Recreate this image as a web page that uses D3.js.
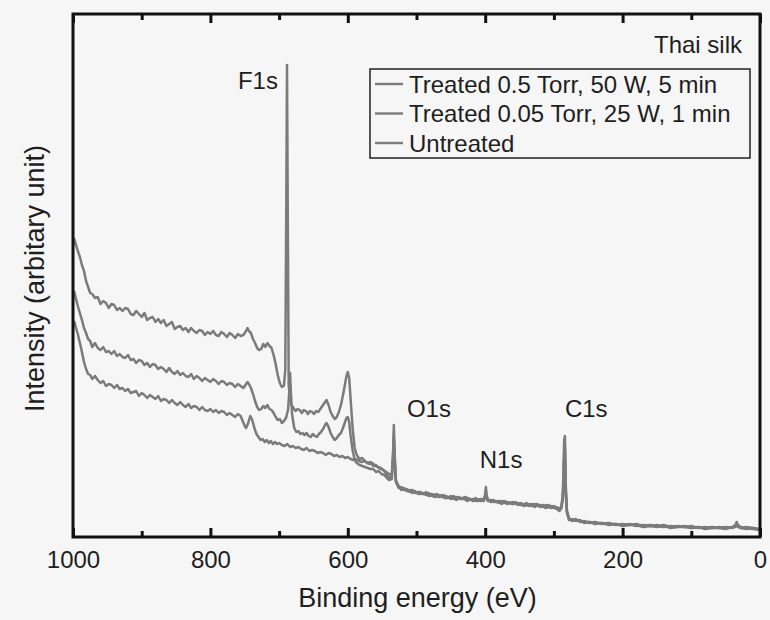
<!DOCTYPE html>
<html>
<head>
<meta charset="utf-8">
<script src="https://cdn.jsdelivr.net/npm/d3@7"></script>
<style>
  body { margin: 0; background: #f6f6f6; }
  svg { display: block; }
  text { font-family: "Liberation Sans", Arial, sans-serif; fill: #1e1e1e; }
</style>
</head>
<body>
<svg id="chart" width="770" height="620"></svg>
<script>
// XPS survey spectra of Thai silk: [binding energy (eV), intensity (a.u.)]
const treatedHigh = [
  [1000,29.1],[998,29.8],[996,29.3],[993,28.6],[990,28.0],[987,27.2],[984,26.6],[981,25.6],[978,25.0],[975,24.4],
  [972,24.3],[968,23.9],[964,24.0],[960,23.3],[956,23.6],[952,23.4],[948,22.9],[944,23.3],[940,23.2],[936,22.7],
  [932,22.9],[928,22.6],[924,22.9],[920,22.8],[916,22.3],[912,22.2],[908,22.6],[904,22.3],[900,22.0],[896,22.4],
  [892,21.7],[888,21.9],[884,22.0],[880,21.5],[876,21.8],[872,21.4],[868,21.7],[864,21.1],[860,21.3],[856,21.5],
  [852,20.8],[848,21.0],[844,21.1],[840,20.7],[836,20.9],[832,20.5],[828,20.9],[824,20.6],[820,20.4],[816,20.7],
  [812,20.6],[808,20.2],[804,20.5],[800,20.3],[796,20.6],[792,20.2],[788,20.1],[784,20.5],[780,20.3],[776,20.0],
  [772,20.4],[768,20.2],[764,19.9],[760,20.3],[756,20.1],[752,20.2],[749,20.5],[746,20.9],[744,20.6],
  [741,20.4],[738,19.8],[735,19.4],[732,18.9],[729,18.7],[726,18.8],[723,19.3],[720,19.0],[717,19.4],[714,19.1],
  [711,18.9],[708,18.2],[705,17.3],[702,16.2],[699,15.4],[696,15.0],[693,15.1],[691,16.7],[689.5,33.7],[688.5,47.2],
  [687.5,33.7],[686,15.2],[684,13.7],[682,13.2],[679,12.9],[676,12.6],[673,12.8],[670,12.7],[667,12.4],[664,12.7],
  [661,12.6],[658,12.3],[655,12.6],[652,12.5],[649,12.3],[646,12.6],[643,12.5],[640,12.8],[637,13.1],[634,13.4],
  [631,13.7],[628,13.2],[625,12.5],[622,12.1],[619,11.8],[616,12.0],[613,12.5],[610,13.2],[607,14.2],[604,15.3],
  [602,16.1],[600,16.5],[598,15.9],[596,13.9],[593,10.9],[590,8.9],[587,8.2],[583,7.8],[579,7.9],[575,7.6],
  [571,7.4],[567,7.5],[563,7.1],[559,7.2],[555,6.9],[551,6.8],[547,6.6],[543,6.2],[540,5.9],[536,6.1],
  [534,8.7],[533,11.2],[532,8.7],[530,5.7],
  [526,5.0],[522,4.8],[518,4.9],[514,4.6],[510,4.7],[506,4.6],[502,4.4],[498,4.5],[494,4.5],[490,4.3],
  [486,4.5],[482,4.2],[478,4.3],[474,4.2],[470,4.3],[466,4.0],[462,4.2],[458,4.1],[454,4.0],[450,3.9],
  [446,4.1],[442,3.9],[438,4.0],[434,3.8],[430,4.0],[426,3.9],[422,3.8],[418,3.7],[414,3.9],[410,3.7],
  [406,3.8],[402,3.7],[400,4.3],[399,5.0],[398,4.2],[396,3.7],[392,3.6],[388,3.7],[384,3.5],[380,3.6],
  [376,3.5],[372,3.6],[368,3.4],[364,3.4],[360,3.3],[356,3.5],[352,3.3],[348,3.4],[344,3.2],[340,3.4],
  [336,3.2],[332,3.3],[328,3.2],[324,3.3],[320,3.1],[316,3.2],[312,3.0],[308,3.2],[304,3.0],[300,3.1],
  [296,2.9],[292,2.7],[289,3.0],[287,4.4],[286,6.7],[285,9.7],[284,10.1],[283,5.7],[281,2.5],[278,1.8],
  [274,1.7],[268,1.8],[262,1.5],[256,1.6],[248,1.4],[240,1.5],[230,1.3],[220,1.4],[210,1.2],[200,1.3],
  [190,1.2],[180,1.3],[170,1.1],[160,1.2],[150,1.1],[140,1.2],[130,1.0],[120,1.1],[110,1.0],[100,1.1],
  [90,0.9],[80,1.0],[70,0.9],[60,1.0],[50,0.9],[40,1.0],[36,1.2],[34,1.5],[32,1.2],[28,1.0],
  [20,0.9],[10,0.8],[0,0.7]
];

const treatedLow = [
  [1000,23.9],[998,24.5],[996,23.9],[993,23.1],[990,22.4],[987,21.7],[984,20.9],[981,20.4],[978,19.8],[975,19.6],
  [972,19.0],[968,19.4],[964,18.9],[960,18.7],[956,19.0],[952,18.5],[948,18.6],[944,18.3],[940,18.6],[936,18.1],
  [932,18.3],[928,18.0],[924,17.9],[920,18.2],[916,17.7],[912,17.8],[908,17.4],[904,17.7],[900,17.6],[896,17.2],
  [892,17.4],[888,17.0],[884,17.3],[880,17.2],[876,16.8],[872,17.0],[868,16.8],[864,16.5],[860,16.9],[856,16.5],
  [852,16.3],[848,16.6],[844,16.2],[840,16.4],[836,16.1],[832,16.0],[828,16.3],[824,15.8],[820,16.1],[816,15.9],
  [812,15.6],[808,15.9],[804,15.7],[800,15.5],[796,15.8],[792,15.6],[788,15.3],[784,15.6],[780,15.5],[776,15.2],
  [772,15.4],[768,15.3],[764,15.0],[760,15.3],[756,15.1],[752,14.9],[749,15.2],[746,15.5],[744,15.3],
  [741,14.9],[738,14.3],[735,13.6],[732,13.0],[729,12.7],[726,12.8],[723,13.1],[720,12.9],[717,13.2],[714,12.8],
  [711,12.7],[708,12.4],[705,12.0],[702,11.7],[699,11.8],[696,11.4],[693,11.6],[690,11.9],[687,12.7],[685,14.7],
  [684,16.4],[683,14.7],[681,12.2],[678,10.9],[675,10.5],[672,10.6],[669,10.3],[666,10.4],[663,10.2],[660,10.4],
  [657,10.1],[654,10.0],[651,10.3],[648,10.1],[645,10.0],[642,10.3],[639,10.5],[636,10.8],[633,11.2],[631,11.4],
  [628,11.0],[625,10.4],[622,10.0],[619,9.7],[616,9.9],[613,10.2],[610,10.4],[607,10.9],[604,11.5],[602,11.9],
  [600,12.0],[598,11.5],[596,10.2],[593,8.7],[590,7.7],[587,7.4],[583,7.2],[579,7.1],[575,7.0],[571,6.9],
  [567,6.8],[563,6.8],[559,6.5],[555,6.6],[551,6.3],[547,6.2],[543,5.9],[540,5.7],[536,5.8],[534,8.2],
  [533,10.2],[532,8.2],[530,5.5],
  [526,4.9],[522,5.0],[518,4.7],[514,4.8],[510,4.5],[506,4.7],[502,4.5],[498,4.4],[494,4.3],[490,4.4],
  [486,4.2],[482,4.4],[478,4.1],[474,4.2],[470,4.0],[466,4.2],[462,4.0],[458,3.9],[454,3.9],[450,4.1],
  [446,3.8],[442,4.0],[438,3.8],[434,3.9],[430,3.8],[426,3.9],[422,3.7],[418,3.8],[414,3.6],[410,3.8],
  [406,3.6],[402,3.8],[400,4.1],[399,4.6],[398,4.0],[396,3.6],[392,3.7],[388,3.5],[384,3.6],[380,3.4],
  [376,3.6],[372,3.4],[368,3.5],[364,3.4],[360,3.5],[356,3.3],[352,3.4],[348,3.2],[344,3.3],[340,3.2],
  [336,3.3],[332,3.1],[328,3.3],[324,3.1],[320,3.2],[316,3.0],[312,3.2],[308,3.1],[304,3.1],[300,2.9],
  [296,3.0],[292,2.8],[289,3.1],[287,4.0],[286,5.8],[285,8.6],[284,9.2],[283,5.0],[281,2.6],[278,1.9],
  [274,1.6],[268,1.7],[262,1.6],[256,1.5],[248,1.5],[240,1.4],[230,1.4],[220,1.3],[210,1.3],[200,1.2],
  [190,1.3],[180,1.1],[170,1.2],[160,1.1],[150,1.2],[140,1.0],[130,1.1],[120,1.0],[110,1.1],[100,0.9],
  [90,1.0],[80,0.9],[70,1.0],[60,0.9],[50,1.0],[40,0.9],[36,1.1],[34,1.3],[32,1.1],[28,0.9],
  [20,1.0],[10,0.9],[0,0.8]
];

const untreated = [
  [1000,21.0],[998,21.5],[996,21.0],[993,20.3],[990,19.4],[987,18.5],[984,17.5],[981,16.8],[978,16.3],[975,16.2],
  [972,15.8],[968,16.1],[964,15.7],[960,15.4],[956,15.6],[952,15.1],[948,15.3],[944,15.2],[940,14.9],[936,15.2],
  [932,14.8],[928,14.9],[924,14.6],[920,14.8],[916,14.4],[912,14.5],[908,14.6],[904,14.1],[900,14.4],[896,14.2],
  [892,13.9],[888,14.2],[884,14.0],[880,13.8],[876,14.1],[872,13.6],[868,13.8],[864,13.7],[860,13.4],[856,13.7],
  [852,13.4],[848,13.2],[844,13.5],[840,13.2],[836,13.0],[832,13.3],[828,12.9],[824,13.1],[820,13.0],[816,12.7],
  [812,13.0],[808,12.7],[804,12.6],[800,12.8],[796,12.5],[792,12.7],[788,12.4],[784,12.6],[780,12.5],[776,12.2],
  [772,12.4],[768,12.2],[764,12.0],[760,12.3],[756,12.1],[753,11.6],[750,11.1],[748,10.9],[745,11.4],
  [742,12.1],[739,11.7],[736,10.9],[733,10.3],[730,10.0],[727,9.7],[724,9.8],[721,9.5],[718,9.7],[715,9.4],
  [712,9.6],[709,9.3],[706,9.5],[703,9.3],[700,9.4],[696,9.2],[692,9.1],[688,9.3],[684,9.0],[680,9.1],
  [676,8.9],[672,9.0],[668,8.8],[664,8.7],[660,8.9],[656,8.6],[652,8.7],[648,8.6],[644,8.4],[640,8.5],
  [636,8.4],[632,8.2],[628,8.4],[624,8.3],[620,8.1],[616,8.2],[612,8.0],[608,8.1],[604,7.9],[600,8.0],
  [596,7.8],[592,7.7],[588,7.8],[584,7.6],[580,7.5],[576,7.6],[572,7.4],[568,7.3],[564,7.4],[560,7.1],
  [556,7.0],[552,6.9],[548,6.7],[544,6.5],[540,6.3],[536,6.2],[534,7.7],[533,9.7],[532,7.7],[530,5.6],
  [526,5.1],[522,4.7],[518,4.8],[514,4.6],[510,4.6],[506,4.4],[502,4.6],[498,4.3],[494,4.4],[490,4.3],
  [486,4.3],[482,4.1],[478,4.2],[474,4.0],[470,4.2],[466,4.0],[462,4.1],[458,3.9],[454,4.0],[450,3.8],
  [446,3.9],[442,3.7],[438,3.9],[434,3.8],[430,3.8],[426,3.6],[422,3.8],[418,3.6],[414,3.7],[410,3.6],
  [406,3.7],[402,3.6],[400,4.0],[399,4.4],[398,3.9],[396,3.7],[392,3.5],[388,3.6],[384,3.5],[380,3.5],
  [376,3.3],[372,3.5],[368,3.3],[364,3.4],[360,3.3],[356,3.4],[352,3.2],[348,3.3],[344,3.1],[340,3.2],
  [336,3.1],[332,3.2],[328,3.0],[324,3.2],[320,3.0],[316,3.1],[312,2.9],[308,3.0],[304,2.9],[300,3.0],
  [296,2.8],[292,2.6],[289,2.9],[287,3.8],[286,5.5],[285,8.0],[284,8.8],[283,4.6],[281,2.4],[278,1.7],
  [274,1.8],[268,1.6],[262,1.7],[256,1.4],[248,1.5],[240,1.3],[230,1.4],[220,1.2],[210,1.3],[200,1.1],
  [190,1.2],[180,1.2],[170,1.0],[160,1.1],[150,1.0],[140,1.1],[130,0.9],[120,1.0],[110,1.0],[100,0.9],
  [90,1.0],[80,0.8],[70,0.9],[60,0.9],[50,0.8],[40,1.0],[36,1.0],[34,1.2],[32,1.0],[28,0.9],
  [20,0.8],[10,0.9],[0,0.7]
];

const seriesNames = ["Treated 0.5 Torr, 50 W, 5 min", "Treated 0.05 Torr, 25 W, 1 min", "Untreated"];
const majorTicks = [1000, 800, 600, 400, 200, 0];
const minorTicks = [900, 700, 500, 300, 100];

// Core-level labels: [text, energy (eV), intensity (a.u.)]
const peakLabels = [["F1s", 760, 44.8], ["O1s", 514, 12.0], ["N1s", 408, 6.9], ["C1s", 284, 12.0]];

const svg = d3.select("#chart");
const plot = { left: 73, right: 760, top: 14, bottom: 537 };

const x = d3.scaleLinear().domain([1000, 0]).range([plot.left, plot.right]);
const y = d3.scaleLinear().domain([0, 52.3]).range([plot.bottom, plot.top]);

const lineColor = "#7b7b7b";
const line = d3.line().x(d => x(d[0])).y(d => y(d[1]));

// spectra
const spectra = svg.append("g");
[untreated, treatedLow, treatedHigh].forEach(s => {
  spectra.append("path")
    .datum(s)
    .attr("d", line)
    .attr("fill", "none")
    .attr("stroke", lineColor)
    .attr("stroke-width", 2.5)
    .attr("stroke-linejoin", "round");
});

// bottom and top axes: major + minor ticks, all pointing inward
const bottomAxis = svg.append("g").attr("transform", `translate(0,${plot.bottom})`);
bottomAxis.call(d3.axisBottom(x).tickValues(majorTicks).tickSizeInner(-9).tickSizeOuter(0).tickPadding(14).tickFormat(d3.format("d")));
bottomAxis.append("g").call(d3.axisBottom(x).tickValues(minorTicks).tickSizeInner(-6).tickSizeOuter(0).tickFormat(""));
const topAxis = svg.append("g").attr("transform", `translate(0,${plot.top})`);
topAxis.call(d3.axisTop(x).tickValues(majorTicks).tickSizeInner(-9).tickSizeOuter(0).tickFormat(""));
topAxis.append("g").call(d3.axisTop(x).tickValues(minorTicks).tickSizeInner(-6).tickSizeOuter(0).tickFormat(""));

svg.selectAll(".domain").remove();
svg.selectAll(".tick line").attr("stroke", "#111").attr("stroke-width", 3);
bottomAxis.selectAll(".tick text").attr("font-size", 24).attr("fill", "#1e1e1e")
  .style("font-family", "'Liberation Sans', Arial, sans-serif");

// frame
svg.append("rect")
  .attr("x", plot.left).attr("y", plot.top)
  .attr("width", plot.right - plot.left).attr("height", plot.bottom - plot.top)
  .attr("fill", "none").attr("stroke", "#111").attr("stroke-width", 3);

// axis titles
svg.append("text")
  .attr("x", (plot.left + plot.right) / 2 + 1).attr("y", 607)
  .attr("text-anchor", "middle").attr("font-size", 27)
  .text("Binding energy (eV)");
svg.append("text")
  .attr("transform", `translate(44,${(plot.top + plot.bottom) / 2 + 3}) rotate(-90)`)
  .attr("text-anchor", "middle").attr("font-size", 27)
  .text("Intensity (arbitary unit)");

// peak labels
svg.selectAll(".peak").data(peakLabels).enter().append("text")
  .attr("class", "peak")
  .attr("x", d => x(d[1])).attr("y", d => y(d[2]))
  .attr("font-size", 24)
  .text(d => d[0]);

// sample name
svg.append("text")
  .attr("x", 742).attr("y", 53).attr("text-anchor", "end").attr("font-size", 24)
  .text("Thai silk");

// legend
const legend = svg.append("g");
legend.append("rect")
  .attr("x", 370).attr("y", 69).attr("width", 380).attr("height", 89)
  .attr("fill", "none").attr("stroke", "#222").attr("stroke-width", 1.5);
seriesNames.forEach((name, i) => {
  const cy = 84 + i * 29.5;
  legend.append("line")
    .attr("x1", 375).attr("x2", 403).attr("y1", cy).attr("y2", cy)
    .attr("stroke", lineColor).attr("stroke-width", 2.4);
  legend.append("text")
    .attr("x", 409).attr("y", cy + 8.5).attr("font-size", 24)
    .text(name);
});
</script>
</body>
</html>
